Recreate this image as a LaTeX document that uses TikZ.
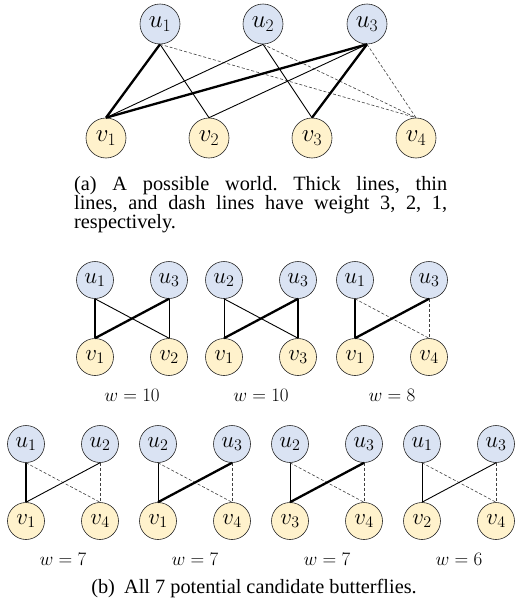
\RequirePackage{fix-cm}
\documentclass[tikz,border=0pt]{standalone}
\usepackage{fontspec}
\setmainfont{Liberation Serif}
\usepackage{xcolor}
\usetikzlibrary{positioning}

\definecolor{ublue}{HTML}{DAE3F3}
\definecolor{vyellow}{HTML}{FFF2CC}

\tikzset{
  unode/.style={circle, draw=black!85, fill=ublue, line width=0.6pt,
    minimum size=40pt, inner sep=0pt, font=\fontsize{25}{25}\selectfont},
  vnode/.style={unode, fill=vyellow},
  sunode/.style={unode, minimum size=37pt, font=\fontsize{23}{23}\selectfont},
  svnode/.style={sunode, fill=vyellow},
  w3/.style={line width=2.3pt},
  w2/.style={line width=0.9pt},
  w1/.style={line width=0.6pt, dash pattern=on 3pt off 2pt, black!75},
  capfont/.style={font=\fontsize{20.3}{19}\selectfont\frenchspacing}
}

\begin{document}
\begin{tikzpicture}[x=1pt, y=-1pt]
    \path (0,0) rectangle (514,608);

    % (a) the possible world
    \node[unode] (u1) at (160,24) {$u_1$};
    \node[unode] (u2) at (263,24) {$u_2$};
    \node[unode] (u3) at (367,24) {$u_3$};
    \node[vnode] (v1) at (106,138) {$v_1$};
    \node[vnode] (v2) at (209,138) {$v_2$};
    \node[vnode] (v3) at (312,138) {$v_3$};
    \node[vnode] (v4) at (416,138) {$v_4$};

    \draw[w3] (u1.south) -- (v1.north);
    \draw[w2] (u1.south) -- (v2.north);
    \draw[w1] (u1.south) -- (v4.north);
    \draw[w2] (u2.south) -- (v1.north);
    \draw[w2] (u2.south) -- (v3.north);
    \draw[w1] (u2.south) -- (v4.north);
    \draw[w3] (u3.south) -- (v1.north);
    \draw[w2] (u3.south) -- (v2.north);
    \draw[w3] (u3.south) -- (v3.north);
    \draw[w1] (u3.south) -- (v4.north);

    \node[capfont, anchor=north west, text width=373pt, align=justify, inner sep=0pt] (capa) at (74,176)
      {\hyphenpenalty=10000 (a) A possible world. Thick lines, thin\linebreak lines, and dash lines have weight 3, 2, 1,\linebreak respectively.};

    % (b) candidate butterflies: x, y, u's, v's, edge weights, total
    \foreach \cx/\cy/\ua/\ub/\va/\vb/\sac/\sbd/\sad/\sbc/\w [count=\i] in {
        132/280/1/3/1/2/w3/w2/w2/w3/10,
        261/280/2/3/1/3/w2/w3/w2/w3/10,
        392/280/1/3/1/4/w3/w1/w1/w3/8,
        63/444/1/2/1/4/w3/w1/w1/w2/7,
        195/444/2/3/1/4/w2/w1/w1/w3/7,
        327/444/2/3/3/4/w2/w1/w1/w3/7,
        459/444/1/3/2/4/w2/w1/w1/w2/6}
    {
      \node[sunode] (b\i-ua) at (\cx-37,\cy) {$u_{\ua}$};
      \node[sunode] (b\i-ub) at (\cx+37,\cy) {$u_{\ub}$};
      \node[svnode] (b\i-va) at (\cx-37,\cy+77) {$v_{\va}$};
      \node[svnode] (b\i-vb) at (\cx+37,\cy+77) {$v_{\vb}$};
      \draw[\sac] (b\i-ua.south) -- (b\i-va.north);
      \draw[\sbd] (b\i-ub.south) -- (b\i-vb.north);
      \draw[\sad] (b\i-ua.south) -- (b\i-vb.north);
      \draw[\sbc] (b\i-ub.south) -- (b\i-va.north);
      \node[font=\fontsize{19}{19}\selectfont] (b\i-w) at (\cx,\cy+115) {$w=\w$};
    }

    \node[capfont] (capb) at (254,589) {(b)\hspace{0.2em} All 7 potential candidate butterflies.};
\end{tikzpicture}
\end{document}
